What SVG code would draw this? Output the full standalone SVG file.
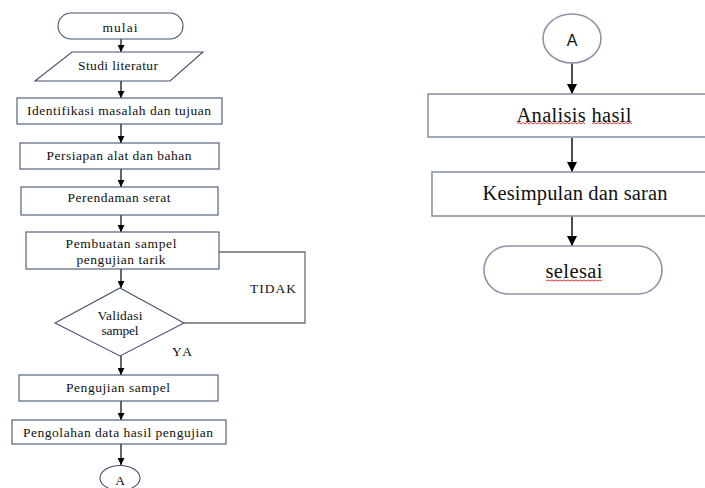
<svg xmlns="http://www.w3.org/2000/svg" width="705" height="488" viewBox="0 0 705 488">
<defs>
<marker id="ah" viewBox="0 0 10 10" refX="10" refY="5" markerWidth="7" markerHeight="7" markerUnits="userSpaceOnUse" orient="auto"><path d="M0,0 L10,5 L0,10 Z" fill="#000"/></marker>
<marker id="ahL" viewBox="0 0 10 10" refX="10" refY="5" markerWidth="10" markerHeight="10" markerUnits="userSpaceOnUse" orient="auto"><path d="M0,0 L10,5 L0,10 Z" fill="#000"/></marker>
</defs>
<style>
.bx{fill:#fff;stroke:#44546f;stroke-width:1.1}
.bxr{fill:#fff;stroke:#8b95a7;stroke-width:1.6}
.t{font-family:"Liberation Serif","Times New Roman",serif;font-size:13.5px;fill:#111;text-anchor:middle;dominant-baseline:central}
.tr{font-family:"Liberation Serif","Times New Roman",serif;font-size:20.5px;fill:#111;text-anchor:middle;dominant-baseline:central}
.ts{font-family:"Liberation Sans",Arial,sans-serif;font-size:16px;fill:#111;text-anchor:middle;dominant-baseline:central}
.ar{stroke:#000;stroke-width:1.2;fill:none;marker-end:url(#ah)}
.arL{stroke:#000;stroke-width:1.4;fill:none;marker-end:url(#ahL)}
.loop{stroke:#707070;stroke-width:1.3;fill:none}
.sq{stroke:#e02020;stroke-width:0.9;fill:none}
</style>
<rect width="705" height="488" fill="#fff"/>
<g id="connectors">
<line class="ar" x1="121" y1="39" x2="121" y2="52"/>
<line class="ar" x1="121" y1="81" x2="121" y2="98"/>
<line class="ar" x1="121" y1="124" x2="121" y2="143"/>
<line class="ar" x1="121" y1="169" x2="121" y2="187"/>
<line class="ar" x1="121" y1="215" x2="121" y2="232"/>
<line class="ar" x1="121" y1="269" x2="121" y2="288"/>
<line class="ar" x1="121" y1="356" x2="121" y2="375"/>
<line class="ar" x1="121" y1="401" x2="121" y2="420"/>
<line class="ar" x1="121" y1="444" x2="121" y2="465"/>
<polyline class="loop" points="184,323 305,323 305,252 219,252"/>
<line class="arL" x1="572" y1="63" x2="572" y2="94"/>
<line class="arL" x1="572" y1="138" x2="572" y2="172"/>
<line class="arL" x1="572" y1="216" x2="572" y2="246"/>
</g>
<g id="mulai"><rect class="bx" x="58" y="13" width="125" height="26" rx="13"/><text class="t" x="120" y="27" textLength="35">mulai</text></g>
<g id="studi"><polygon class="bx" points="72,52 203,52 170,81 35,81"/><text class="t" x="118" y="65" textLength="80">Studi literatur</text></g>
<g id="identifikasi"><rect class="bx" x="17" y="98" width="205" height="26"/><text class="t" x="119" y="110" textLength="184">Identifikasi masalah dan tujuan</text></g>
<g id="persiapan"><rect class="bx" x="20" y="143" width="199" height="26"/><text class="t" x="119" y="155" textLength="145">Persiapan alat dan bahan</text></g>
<g id="perendaman"><rect class="bx" x="21" y="187" width="197" height="28"/><text class="t" x="119" y="197" textLength="103">Perendaman serat</text></g>
<g id="pembuatan"><rect class="bx" x="26" y="232" width="193" height="37"/><text class="t" x="121" y="243" textLength="111">Pembuatan sampel</text><text class="t" x="121" y="259" textLength="89">pengujian tarik</text></g>
<g id="validasi"><polygon class="bx" points="120,288 184,323 120,356 55,323"/><text class="t" x="120" y="315" textLength="45">Validasi</text><text class="t" x="120" y="330" textLength="37">sampel</text></g>
<g id="label-tidak"><text class="t" x="273" y="288" textLength="46">TIDAK</text></g>
<g id="label-ya"><text class="t" x="182" y="351" textLength="20">YA</text></g>
<g id="pengujian"><rect class="bx" x="19" y="375" width="199" height="26"/><text class="t" x="118" y="387" textLength="104">Pengujian sampel</text></g>
<g id="pengolahan"><rect class="bx" x="12" y="420" width="214" height="24"/><text class="t" x="118" y="432" textLength="190">Pengolahan data hasil pengujian</text></g>
<g id="connA1"><ellipse class="bx" cx="120" cy="478" rx="20" ry="12.5"/><text class="t" x="120" y="480">A</text></g>
<g id="connA2"><ellipse class="bxr" cx="572" cy="38.5" rx="29" ry="24.5" stroke="#5a6a85"/><text class="ts" x="572" y="40">A</text></g>
<g id="analisis"><rect class="bxr" x="428" y="94" width="300" height="43"/><text class="tr" x="574" y="115" textLength="115">Analisis hasil</text>
<path class="sq" d="M517,124 l2,-1.5 l2,1.5 l2,-1.5 l2,1.5 l2,-1.5 l2,1.5 l2,-1.5 l2,1.5 l2,-1.5 l2,1.5 l2,-1.5 l2,1.5 l2,-1.5 l2,1.5 l2,-1.5 l2,1.5 l2,-1.5 l2,1.5 l2,-1.5 l2,1.5 l2,-1.5 l2,1.5 l2,-1.5 l2,1.5 l2,-1.5 l2,1.5 l2,-1.5 l2,1.5 l2,-1.5 l2,1.5 l2,-1.5 l2,1.5 l2,-1.5 l2,1.5"/>
<path class="sq" d="M592,124 l2,-1.5 l2,1.5 l2,-1.5 l2,1.5 l2,-1.5 l2,1.5 l2,-1.5 l2,1.5 l2,-1.5 l2,1.5 l2,-1.5 l2,1.5 l2,-1.5 l2,1.5 l2,-1.5 l2,1.5 l2,-1.5 l2,1.5 l2,-1.5 l2,1.5"/></g>
<g id="kesimpulan"><rect class="bxr" x="432" y="172" width="300" height="44"/><text class="tr" x="575" y="193" textLength="185">Kesimpulan dan saran</text></g>
<g id="selesai"><rect class="bxr" x="484" y="246" width="178" height="48" rx="24" stroke="#5a6a85"/><text class="tr" x="574" y="271" textLength="57">selesai</text>
<path class="sq" d="M546,281 l2,-1 l2,1 l2,-1 l2,1 l2,-1 l2,1 l2,-1 l2,1 l2,-1 l2,1 l2,-1 l2,1 l2,-1 l2,1 l2,-1 l2,1 l2,-1 l2,1 l2,-1 l2,1 l2,-1 l2,1 l2,-1 l2,1 l2,-1 l2,1 l2,-1 l2,1"/></g>
</svg>
